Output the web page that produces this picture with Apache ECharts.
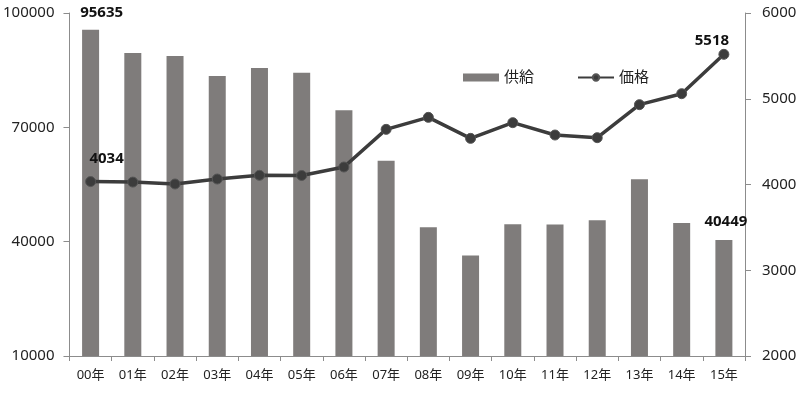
<!DOCTYPE html>
<html><head><meta charset="utf-8">
<script src="https://cdn.jsdelivr.net/npm/echarts@6/dist/echarts.min.js"></script>
<style>html,body{margin:0;padding:0;background:#fff}#c{width:800px;height:395px}</style>
</head><body><div id="c"></div>
<script>
const categories = ['00年','01年','02年','03年','04年','05年','06年','07年','08年','09年','10年','11年','12年','13年','14年','15年'];
const supply = [95635, 89500, 88700, 83500, 85600, 84300, 74500, 61200, 43800, 36400, 44600, 44500, 45600, 56400, 44900, 40449];
const price = [4034, 4028, 4006, 4064, 4107, 4105, 4204, 4643, 4783, 4538, 4721, 4577, 4546, 4931, 5059, 5518];
const leftTicks = {min: 10000, max: 100000, interval: 30000};
const rightTicks = {min: 2000, max: 6000, interval: 1000};
const labelIdxSupply = [0, 15];
const labelIdxPrice = [0, 15];

const F = '"Noto Sans", "Noto Sans CJK JP", sans-serif';
const axisLine = {show: true, lineStyle: {color: '#8c8c8c', width: 1}};
const lbl = {fontFamily: F, fontSize: 15, fontWeight: 'bold', color: '#111'};
const chart = echarts.init(document.getElementById('c'));
chart.setOption({
  animation: false,
  textStyle: {fontFamily: F},
  grid: {left: 69, right: 55, top: 13, bottom: 39},
  legend: {
    left: 458, top: 65, itemGap: 43, itemWidth: 36, itemHeight: 8,
    textStyle: {fontFamily: F, fontSize: 15, color: '#222'},
    data: [{name: '供給', icon: 'rect'}, {name: '価格'}]
  },
  xAxis: {
    type: 'category', data: categories, boundaryGap: true,
    axisLine: axisLine,
    axisTick: {show: true, alignWithLabel: false, length: 5, lineStyle: {color: '#8c8c8c'}},
    axisLabel: {fontFamily: F, fontSize: 13, color: '#222', margin: 13}
  },
  yAxis: [
    {type: 'value', min: leftTicks.min, max: leftTicks.max, interval: leftTicks.interval,
     splitLine: {show: false}, axisLine: axisLine,
     axisTick: {show: true, length: 6, lineStyle: {color: '#8c8c8c'}},
     axisLabel: {fontFamily: F, fontSize: 15, color: '#222', margin: 15, formatter: v => String(v)}},
    {type: 'value', min: rightTicks.min, max: rightTicks.max, interval: rightTicks.interval,
     splitLine: {show: false}, axisLine: axisLine, position: 'right',
     axisTick: {show: true, length: 6, lineStyle: {color: '#8c8c8c'}},
     axisLabel: {fontFamily: F, fontSize: 15, color: '#222', margin: 17, formatter: v => String(v)}}
  ],
  series: [
    {name: '供給', type: 'bar', yAxisIndex: 0, barWidth: 17,
     itemStyle: {color: '#7f7c7b'},
     data: supply.map((v, i) => labelIdxSupply.includes(i)
       ? {value: v, label: Object.assign({show: true, position: 'top', distance: i === 0 ? 9 : 11, offset: i === 15 ? [2, 0] : [11, 0]}, lbl)}
       : v)},
    {name: '価格', type: 'line', yAxisIndex: 1, symbol: 'circle', symbolSize: 10,
     lineStyle: {color: '#3c3c3c', width: 3.5},
     itemStyle: {color: '#3c3c3c', borderColor: '#555', borderWidth: 1},
     data: price.map((v, i) => labelIdxPrice.includes(i)
       ? {value: v, label: Object.assign({show: true, position: 'top', distance: i === 0 ? 10 : 1, offset: i === 0 ? [16, 0] : [-12, 0]}, lbl)}
       : v)}
  ]
});
</script></body></html>
